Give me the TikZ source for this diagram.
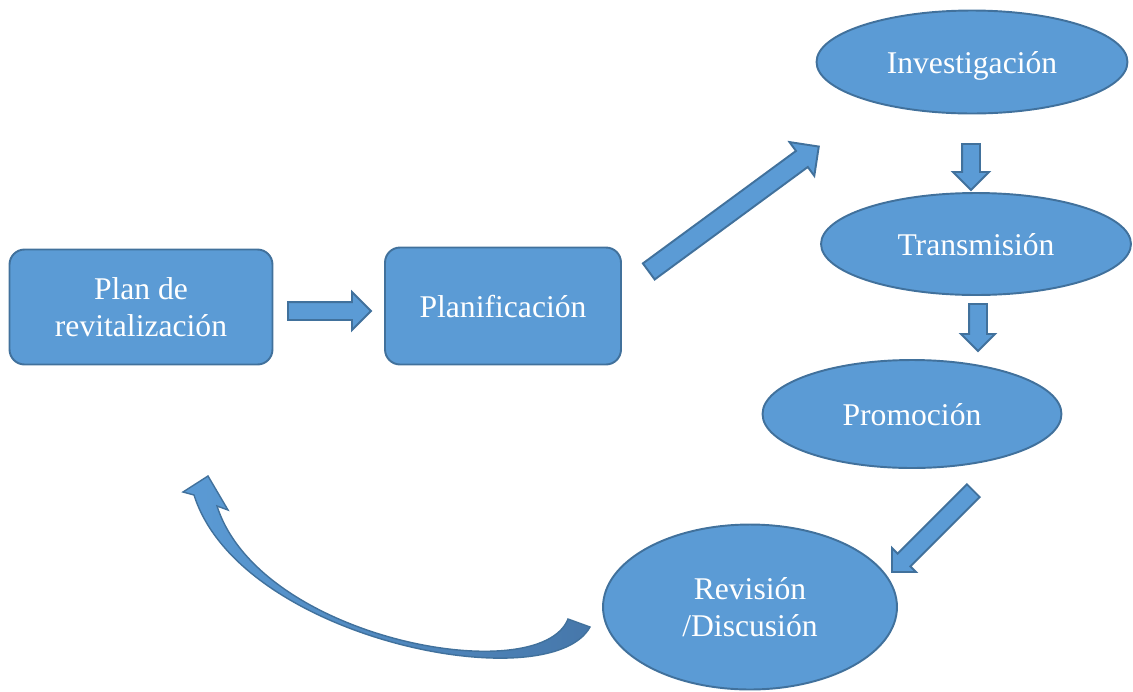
\documentclass[tikz,border=0pt]{standalone}
\usepackage{fontspec}
\setmainfont{Liberation Serif}
\usetikzlibrary{shapes.geometric,shapes.arrows}
\definecolor{boxblue}{HTML}{5B9BD5}
\definecolor{edgeblue}{HTML}{41719C}
\definecolor{deepblue}{HTML}{4677AA}

\begin{document}
\begin{tikzpicture}[x=0.02cm,y=-0.02cm,
  box/.style={draw=edgeblue,fill=boxblue,line width=1.1pt,rounded corners=0.3cm,text=white,align=center,text depth=0pt,font=\fontsize{18}{21.5}\selectfont},
  oval/.style={ellipse,draw=edgeblue,fill=boxblue,line width=1.1pt,text=white,align=center,inner sep=0pt,text depth=0pt,font=\fontsize{18}{21.5}\selectfont},
  blk/.style={single arrow,draw=edgeblue,fill=boxblue,line width=1.1pt,minimum width=0pt,inner xsep=0pt,anchor=tail}]
\useasboundingbox (0,0) rectangle (1133,691);
% boxes and ovals
\node[box,minimum width=5.26cm,minimum height=2.3cm] (plan) at (141,307) {Plan de\\revitalización};
\node[box,minimum width=4.72cm,minimum height=2.34cm] (planif) at (503,306) {Planificación};
\node[oval,minimum width=6.22cm,minimum height=2.06cm] (inv) at (972,62) {Investigación};
\node[oval,minimum width=6.2cm,minimum height=2.04cm] (trans) at (976,244) {Transmisión};
\node[oval,minimum width=5.98cm,minimum height=2.16cm] (prom) at (912,414) {Promoción};
\node[oval,minimum width=5.88cm,minimum height=3.3cm] (rev) at (750,607) {Revisión\\/Discusión};
% block arrows
\node[blk,minimum height=1.66cm,inner ysep=0.16cm,single arrow head extend=0.2cm] (a1) at (287,311) {};
\node[blk,rotate=36.3,minimum height=4.22cm,inner ysep=0.18cm,single arrow head extend=0.22cm] (a2) at (648,272) {};
\node[blk,rotate=-90,minimum height=0.92cm,inner ysep=0.16cm,single arrow head extend=0.18cm] (a3) at (971,143) {};
\node[blk,rotate=-90,minimum height=0.94cm,inner ysep=0.16cm,single arrow head extend=0.16cm] (a4) at (978,303) {};
\node[blk,rotate=-135,minimum height=2.3cm,inner ysep=0.16cm,single arrow head extend=0.16cm] (a5) at (974,490) {};
% curved arrow back
\draw[edgeblue,line width=0.8pt,left color=boxblue,right color=deepblue]
  (590,627) -- (568,619) .. controls (540,690) and (260,640) .. (217,506)
  -- (228,510) -- (208,476) -- (183,492) -- (194,495)
  .. controls (240,640) and (550,700) .. (590,627) -- cycle;
\end{tikzpicture}
\end{document}
